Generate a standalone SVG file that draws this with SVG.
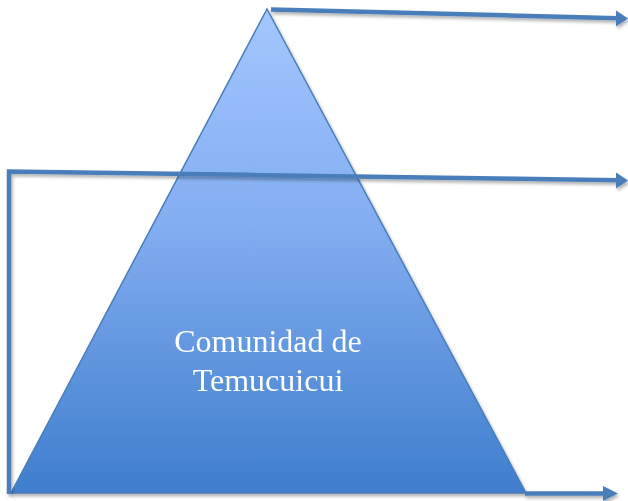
<svg xmlns="http://www.w3.org/2000/svg" width="628" height="501" viewBox="0 0 628 501">
  <defs>
    <linearGradient id="triFill" x1="0" y1="0" x2="0" y2="1">
      <stop offset="0" stop-color="#a3c7ff"/>
      <stop offset="0.45" stop-color="#82adf0"/>
      <stop offset="1" stop-color="#3e7ecd"/>
    </linearGradient>
    <filter id="shadow" filterUnits="userSpaceOnUse" x="-10" y="-10" width="660" height="530">
      <feDropShadow dx="1.5" dy="2.5" stdDeviation="1.5" flood-color="#000" flood-opacity="0.3"/>
    </filter>
    <style>
      .conn { fill: none; stroke: #4a7ebb; stroke-width: 4.5; }
      .head { fill: #4a7ebb; stroke: none; }
      .label { font-family: "Liberation Serif", "Times New Roman", serif; font-size: 32px; fill: #ffffff; text-anchor: middle; }
    </style>
  </defs>

  <g id="pyramid" filter="url(#shadow)">
    <path d="M267,9 L526,493 L11,493 Z" fill="url(#triFill)" stroke="#4a7ebb" stroke-width="1.5" stroke-linejoin="miter"/>
    <text class="label" x="268" y="352">Comunidad de</text>
    <text class="label" x="268" y="391">Temucuicui</text>
  </g>

  <g id="connectors" filter="url(#shadow)">
    <path class="conn" d="M271,9.5 L618,18.2"/>
    <path class="head" d="M616,10.5 L628,18.5 L616,26.5 Z"/>
    <path class="conn" d="M9,494 L9,171.5 L618,180.2"/>
    <path class="head" d="M616,172.5 L628,180.5 L616,188.5 Z"/>
    <path class="conn" d="M525,493.5 L606,493.5"/>
    <path class="head" d="M603,486 L618,493.5 L603,501 Z"/>
  </g>
</svg>
